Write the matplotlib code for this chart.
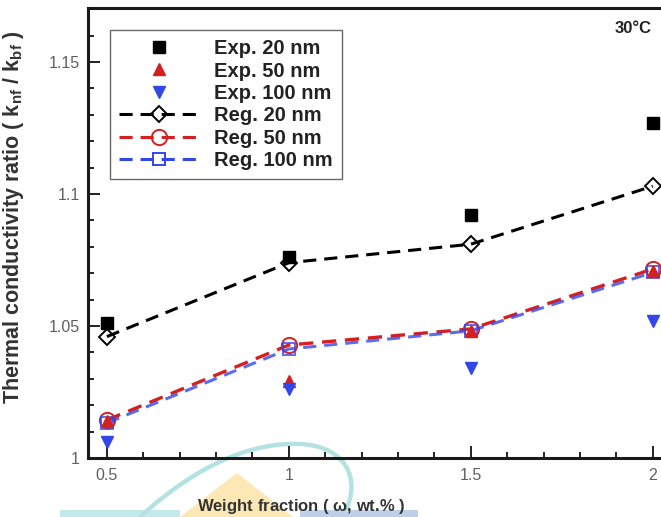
import matplotlib
matplotlib.use("Agg")
import matplotlib.pyplot as plt
from matplotlib.lines import Line2D
from matplotlib.patches import Rectangle, Polygon, PathPatch
from matplotlib.path import Path
from matplotlib.ticker import MultipleLocator

plt.rcParams['font.family'] = ['Liberation Sans', 'DejaVu Sans']
plt.rcParams['mathtext.default'] = 'regular'

# weight fraction (wt.%)
wf = [0.5, 1.0, 1.5, 2.0]

# experimental data
exp_20 = [1.051, 1.076, 1.092, 1.127]
exp_50 = [1.014, 1.029, 1.048, 1.071]
exp_100 = [1.006, 1.026, 1.034, 1.052]

# regression curves
reg_20 = [1.046, 1.074, 1.081, 1.103]
reg_50 = [1.0144, 1.0428, 1.0489, 1.0716]
reg_100 = [1.0133, 1.0413, 1.0482, 1.0703]

red = '#d42020'
blue = '#3347e8'
dash = (4.3, 2.6)

fig = plt.figure(figsize=(6.61, 5.17), dpi=100)

# faint watermark shapes (drawn behind the axes)
wm = fig.add_axes([0, 0, 1, 1], zorder=0)
wm.set_xlim(0, 661)
wm.set_ylim(517, 0)
wm.axis('off')
wm.add_patch(Rectangle((60, 510), 120, 8, color='#c3eaea', lw=0))
wm.add_patch(Rectangle((300, 510), 118, 8, color='#bdd0e8', lw=0))
wm.add_patch(Polygon([(180, 517), (237, 473), (293, 517)], closed=True,
                     color='#fce8b4', lw=0))
swoosh = Path([(140, 517), (200, 462), (255, 442), (300, 444),
               (345, 446), (362, 478), (345, 512)],
              [Path.MOVETO, Path.CURVE4, Path.CURVE4, Path.CURVE4,
               Path.CURVE4, Path.CURVE4, Path.CURVE4])
wm.add_patch(PathPatch(swoosh, fill=False, edgecolor='#b4e2e2', lw=3.2))

ax = fig.add_axes([88 / 661, 59 / 517, 583 / 661, 450 / 517], zorder=1)
ax.patch.set_visible(False)

# regression lines
ax.plot(wf, reg_20, color='black', lw=2.2, dashes=dash, marker='D', ms=8,
        mfc='none', mec='black', mew=1.4, zorder=3)
ax.plot(wf, reg_50, color=red, lw=2.4, dashes=dash, marker='o', ms=11,
        mfc='none', mec=red, mew=1.4, zorder=3)
ax.plot(wf, reg_100, color=blue, lw=2.2, dashes=dash, marker='s', ms=8.5,
        mfc='none', mec=blue, mew=1.4, alpha=0.8, zorder=4)

# experimental points
ax.plot(wf, exp_20, ls='none', marker='s', ms=9, color='black', zorder=5)
ax.plot(wf, exp_50, ls='none', marker='^', ms=9, color=red, zorder=5)
ax.plot(wf, exp_100, ls='none', marker='v', ms=9, color=blue, zorder=5)

ax.set_xlim(0.448, 2.05)
ax.set_ylim(1.0, 1.1705)
ax.set_xticks(wf)
ax.set_xticklabels(['0.5', '1', '1.5', '2'])
ax.set_yticks([1.0, 1.05, 1.1, 1.15])
ax.set_yticklabels(['1', '1.05', '1.1', '1.15'])
ax.xaxis.set_minor_locator(MultipleLocator(0.1))
ax.yaxis.set_minor_locator(MultipleLocator(0.01))
ax.tick_params(which='both', direction='in', top=False, right=False,
               labelcolor='#606060', labelsize=11.5, width=1.4, color='#222222')
ax.tick_params(which='major', length=8.5)
ax.tick_params(which='minor', length=4.5)
ax.tick_params(axis='y', pad=6)
ax.tick_params(axis='x', pad=7)
for s in ax.spines.values():
    s.set_linewidth(2.2)
    s.set_color('#1a1a1a')

ax.set_ylabel('Thermal conductivity ratio ( k$_{nf}$ / k$_{bf}$ )',
              fontsize=15.5, fontweight='bold', color='#333333')
ax.yaxis.set_label_coords(-0.106, 0.535)
ax.set_xlabel('Weight fraction ( $\\omega$, wt.% )', fontsize=12,
              fontweight='bold', color='#333333')
ax.xaxis.set_label_coords(0.366, -0.087)

ax.text(0.967, 0.955, '30°C', transform=ax.transAxes, ha='right', va='center',
        fontsize=12, fontweight='bold', color='#222222')

handles = [
    Line2D([], [], ls='none', marker='s', ms=9, color='black'),
    Line2D([], [], ls='none', marker='^', ms=9, color=red),
    Line2D([], [], ls='none', marker='v', ms=9, color=blue),
    Line2D([], [], color='black', lw=2.2, dashes=dash, marker='D', ms=8,
           mfc='none', mec='black', mew=1.4),
    Line2D([], [], color=red, lw=2.2, dashes=dash, marker='o', ms=11,
           mfc='none', mec=red, mew=1.4),
    Line2D([], [], color=blue, lw=2.2, dashes=dash, marker='s', ms=8.5,
           mfc='none', mec=blue, mew=1.4),
]
labels = ['Exp. 20 nm', 'Exp. 50 nm', 'Exp. 100 nm',
          'Reg. 20 nm', 'Reg. 50 nm', 'Reg. 100 nm']
leg = ax.legend(handles, labels, loc='upper left', bbox_to_anchor=(0.038, 0.951),
                borderaxespad=0, fancybox=False, handlelength=4.0,
                handletextpad=0.7, labelspacing=0.17, borderpad=0.45,
                prop={'size': 14.5, 'weight': 'bold'}, numpoints=1)
leg.get_frame().set_edgecolor('#444444')
leg.get_frame().set_linewidth(1.0)
for t in leg.get_texts():
    t.set_color('#222222')

fig.savefig('out.png', dpi=100)
